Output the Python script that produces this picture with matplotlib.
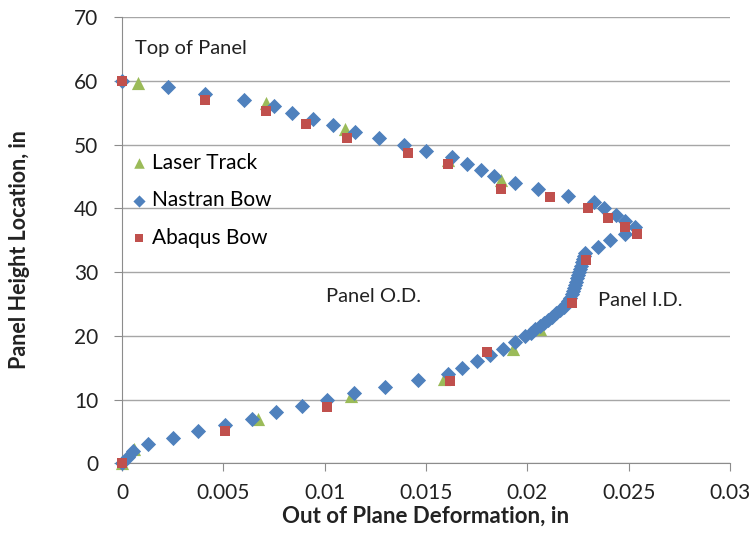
import matplotlib
matplotlib.use('Agg')
import matplotlib.pyplot as plt
from matplotlib.ticker import FuncFormatter

plt.rcParams['font.family'] = ['Lato', 'DejaVu Sans']

# Nastran Bow (height, deformation)
nastran_y = [0, 1, 2, 3, 4, 5, 6, 7, 8, 9, 10, 11, 12, 13, 14, 15, 16, 17, 18, 19, 20,
             20.5, 21, 21.5, 22, 22.5, 23, 23.5, 24, 24.5, 25, 25.5, 26, 26.5, 27, 27.5,
             28, 28.5, 29, 29.5, 30, 30.5, 31, 31.5, 32, 32.5, 33, 34, 35, 36, 37, 38,
             39, 40, 41, 42, 43, 44, 45, 46, 47, 48, 49, 50, 51, 52, 53, 54, 55, 56, 57,
             58, 59, 60]
nastran_x = [0, 0.0003, 0.00053, 0.00127, 0.00253, 0.00377, 0.00508, 0.0064, 0.0076,
             0.00887, 0.01013, 0.01146, 0.01298, 0.01462, 0.0161, 0.01676, 0.0175, 0.01816,
             0.01881, 0.01939, 0.01988, 0.0202, 0.0204, 0.0206, 0.0208, 0.021, 0.0212,
             0.0214, 0.0216, 0.0218, 0.0219, 0.022, 0.0221, 0.0222, 0.02225, 0.0223,
             0.02235, 0.0224, 0.02245, 0.0225, 0.02255, 0.0226, 0.02265, 0.0227, 0.02275,
             0.0228, 0.02285, 0.0235, 0.0241, 0.02482, 0.02531, 0.02482, 0.02436, 0.0238,
             0.0233, 0.02199, 0.02054, 0.0194, 0.01836, 0.0177, 0.017, 0.0163, 0.015,
             0.0139, 0.0127, 0.0115, 0.0104, 0.0094, 0.0084, 0.0075, 0.006, 0.0041,
             0.00225, 0]

# Abaqus Bow
abaqus_x = [0, 0.0041, 0.0071, 0.0091, 0.0111, 0.0141, 0.0161, 0.0187, 0.0211, 0.0230,
            0.0240, 0.0248, 0.0254, 0.0229, 0.0222, 0.0180, 0.0162, 0.0101, 0.0051, 0]
abaqus_y = [60, 57, 55.2, 53.2, 51.1, 48.7, 46.9, 43.1, 41.7, 40.1,
            38.4, 37.0, 35.9, 31.9, 25.1, 17.5, 12.9, 8.9, 5.1, 0]

# Laser Track
laser_x = [0.0008, 0.0071, 0.011, 0.0161, 0.0187, 0.0206, 0.0193, 0.0159, 0.0113, 0.0067, 0.0006, 0]
laser_y = [59.6, 56.5, 52.5, 47.5, 44.5, 21, 18, 13.3, 10.6, 7, 2.2, 0]

fig = plt.figure(figsize=(7.54, 5.37), dpi=100)
ax = fig.add_axes([0.1618, 0.1372, 0.8064, 0.8311])

ax.scatter(laser_x, laser_y, marker='^', s=90, color='#9BBB59', label='Laser Track',
           zorder=3, linewidths=0, clip_on=False)
ax.scatter(nastran_x, nastran_y, marker='D', s=60, color='#4F81BD', label='Nastran Bow',
           zorder=4, linewidths=0, clip_on=False)
ax.scatter(abaqus_x, abaqus_y, marker='s', s=60, color='#C0504D', label='Abaqus Bow',
           zorder=5, linewidths=0, clip_on=False)

ax.set_xlim(0, 0.03)
ax.set_ylim(0, 70)
ax.set_xticks([0, 0.005, 0.01, 0.015, 0.02, 0.025, 0.03])
ax.set_yticks(range(0, 71, 10))
ax.xaxis.set_major_formatter(FuncFormatter(lambda v, p: '%g' % round(v, 4)))
ax.yaxis.grid(True, color='#a6a6a6', linewidth=1)
ax.set_axisbelow(True)
for s in ['top', 'right']:
    ax.spines[s].set_visible(False)
for s in ['left', 'bottom']:
    ax.spines[s].set_color('#8c8c8c')
ax.tick_params(axis='both', colors='#8c8c8c', labelcolor='#222222', labelsize=15,
               length=6, direction='out')
ax.tick_params(axis='y', pad=11)
ax.tick_params(axis='x', pad=8)

ax.set_xlabel('Out of Plane Deformation, in', fontsize=16, fontweight='bold', color='#222222')
ax.set_ylabel('Panel Height Location, in', fontsize=15.5, fontweight='bold', color='#222222')
ax.xaxis.set_label_coords(0.5, -0.095)
ax.yaxis.set_label_coords(-0.152, 0.48)

ax.text(0.00064, 65, 'Top of Panel', fontsize=14.5, va='center', color='#222222')
ax.text(0.01007, 26.2, 'Panel O.D.', fontsize=14.5, va='center', color='#222222')
ax.text(0.02349, 25.6, 'Panel I.D.', fontsize=14.5, va='center', color='#222222')

ax.legend(loc='upper left', bbox_to_anchor=(0.0, 0.7155), frameon=False, fontsize=15,
          handlelength=0.8, handletextpad=0.2, labelspacing=0.84, markerscale=0.8,
          borderaxespad=0.0, borderpad=0.43)

plt.savefig('out.png', dpi=100)
plt.close()
